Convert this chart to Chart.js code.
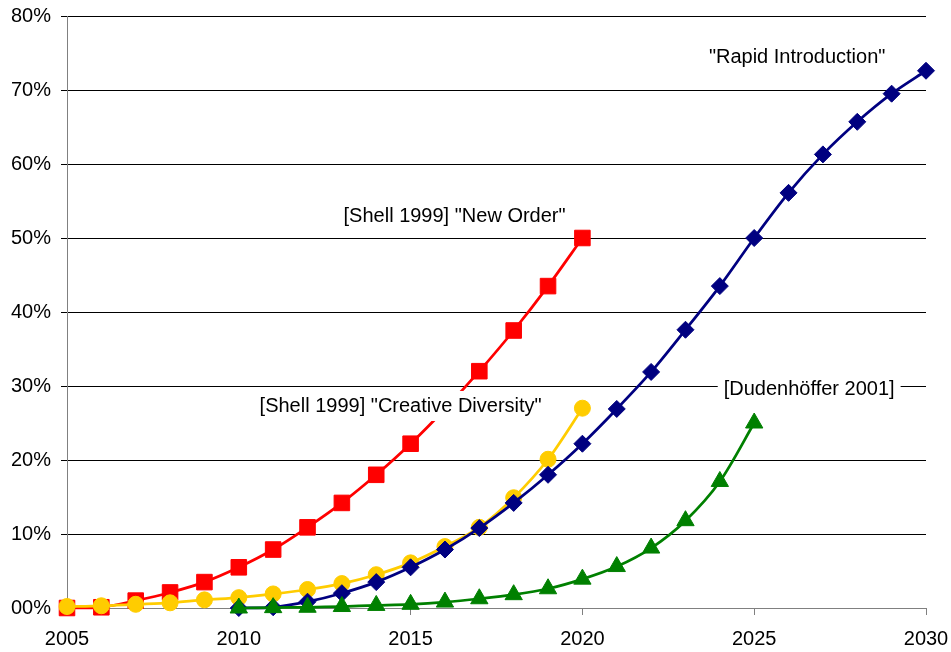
<!DOCTYPE html>
<html lang="en">
<head>
    <meta charset="UTF-8">
    <title>Market share scenarios</title>
    <script src="https://cdn.jsdelivr.net/npm/chart.js"></script>
    <style>
        html, body { margin: 0; padding: 0; background: #fff; }
        .chart-container { width: 951px; height: 652px; }
    </style>
</head>
<body>
    <div class="chart-container">
        <canvas id="shareChart"></canvas>
    </div>

    <script>
        // Years covered by each scenario
        const yearsShell = [2005, 2006, 2007, 2008, 2009, 2010, 2011, 2012, 2013, 2014, 2015, 2016, 2017, 2018, 2019, 2020];
        const yearsRapid = [2010, 2011, 2012, 2013, 2014, 2015, 2016, 2017, 2018, 2019, 2020, 2021, 2022, 2023, 2024, 2025, 2026, 2027, 2028, 2029, 2030];
        const yearsDuden = [2010, 2011, 2012, 2013, 2014, 2015, 2016, 2017, 2018, 2019, 2020, 2021, 2022, 2023, 2024, 2025];

        // Share in percent
        const newOrder = [0, 0.1, 1.0, 2.1, 3.5, 5.5, 7.9, 10.9, 14.2, 18.0, 22.2, 26.9, 32.0, 37.5, 43.5, 50.0];
        const creativeDiversity = [0.2, 0.3, 0.5, 0.7, 1.1, 1.4, 1.9, 2.5, 3.3, 4.5, 6.1, 8.3, 10.9, 14.9, 20.1, 27.0];
        const rapidIntroduction = [0, 0.1, 0.85, 2.0, 3.5, 5.5, 7.9, 10.8, 14.2, 18.0, 22.2, 26.9, 31.9, 37.6, 43.5, 50.0, 56.1, 61.3, 65.7, 69.5, 72.6];
        const dudenhoeffer = [0, 0.05, 0.1, 0.2, 0.35, 0.5, 0.8, 1.25, 1.8, 2.6, 3.9, 5.6, 8.1, 11.8, 17.1, 25.0];

        const yearTicks = [2005, 2010, 2015, 2020, 2025, 2030];

        // Text labels next to the curves (year, percent)
        const notes = [
            { text: '"Rapid Introduction"', year: 2026.25, value: 74.5 },
            { text: '[Shell 1999] "New Order"', year: 2016.28, value: 53.1 },
            { text: '[Shell 1999] "Creative Diversity"', year: 2014.71, value: 27.3 },
            { text: '[Dudenh\u00f6ffer 2001]', year: 2026.6, value: 29.6 }
        ];

        const FONT = '"Liberation Sans", Arial, sans-serif';

        function toPoints(years, values) {
            return years.map((y, i) => ({ x: y, y: values[i] }));
        }

        // white boxed captions, drawn over the lines
        const notesPlugin = {
            id: 'notes',
            afterDatasetsDraw(chart) {
                const ctx = chart.ctx;
                const xs = chart.scales.x;
                const ys = chart.scales.y;
                ctx.save();
                ctx.font = '20px ' + FONT;
                ctx.textAlign = 'center';
                ctx.textBaseline = 'middle';
                notes.forEach(n => {
                    const cx = xs.getPixelForValue(n.year);
                    const cy = ys.getPixelForValue(n.value);
                    const w = ctx.measureText(n.text).width + 12;
                    ctx.fillStyle = '#fff';
                    ctx.fillRect(cx - w / 2, cy - 15, w, 30);
                    ctx.fillStyle = '#000';
                    ctx.fillText(n.text, cx, cy + 1);
                });
                ctx.restore();
            }
        };

        const ctx = document.getElementById('shareChart').getContext('2d');

        // dataset 0 is drawn on top
        new Chart(ctx, {
            type: 'line',
            data: {
                datasets: [
                    {
                        label: 'Dudenhöffer 2001',
                        data: toPoints(yearsDuden, dudenhoeffer),
                        borderColor: '#008000',
                        backgroundColor: '#008000',
                        pointStyle: 'triangle',
                        pointRadius: 10
                    },
                    {
                        label: 'Rapid Introduction',
                        data: toPoints(yearsRapid, rapidIntroduction),
                        borderColor: '#000080',
                        backgroundColor: '#000080',
                        pointStyle: 'rectRot',
                        pointRadius: 8.5
                    },
                    {
                        label: 'Creative Diversity',
                        data: toPoints(yearsShell, creativeDiversity),
                        borderColor: '#FFCC00',
                        backgroundColor: '#FFCC00',
                        pointStyle: 'circle',
                        pointRadius: 8
                    },
                    {
                        label: 'New Order',
                        data: toPoints(yearsShell, newOrder),
                        borderColor: '#FF0000',
                        backgroundColor: '#FF0000',
                        pointStyle: 'rect',
                        pointRadius: 11
                    }
                ]
            },
            options: {
                responsive: true,
                maintainAspectRatio: false,
                animation: false,
                layout: { padding: { top: 16, right: 25, left: 0, bottom: 0 } },
                elements: {
                    line: { borderWidth: 2.75, tension: 0.3 },
                    point: { borderWidth: 1 }
                },
                datasets: { line: { clip: false } },
                plugins: {
                    legend: { display: false },
                    tooltip: { enabled: false }
                },
                scales: {
                    x: {
                        type: 'linear',
                        min: 2005,
                        max: 2030,
                        afterFit: s => {
                            s.height = 44;
                            s.paddingLeft = 0;
                            s.paddingRight = 0;
                        },
                        afterBuildTicks: s => { s.ticks = yearTicks.map(v => ({ value: v })); },
                        ticks: {
                            callback: v => String(v),
                            color: '#000',
                            font: { family: FONT, size: 20 },
                            padding: 12,
                            maxRotation: 0
                        },
                        grid: {
                            drawOnChartArea: false,
                            drawTicks: true,
                            tickLength: 7,
                            color: '#808080'
                        },
                        border: { color: '#808080', width: 1 }
                    },
                    y: {
                        min: 0,
                        max: 80,
                        afterFit: s => {
                            s.width = 67;
                            s.paddingTop = 0;
                            s.paddingBottom = 0;
                        },
                        ticks: {
                            stepSize: 10,
                            callback: v => (v === 0 ? '00' : v) + '%',
                            color: '#000',
                            font: { family: FONT, size: 20 },
                            padding: 10
                        },
                        grid: {
                            color: '#000',
                            lineWidth: 1,
                            tickLength: 6
                        },
                        border: { color: '#808080', width: 1 }
                    }
                }
            },
            plugins: [notesPlugin]
        });
    </script>
</body>
</html>
